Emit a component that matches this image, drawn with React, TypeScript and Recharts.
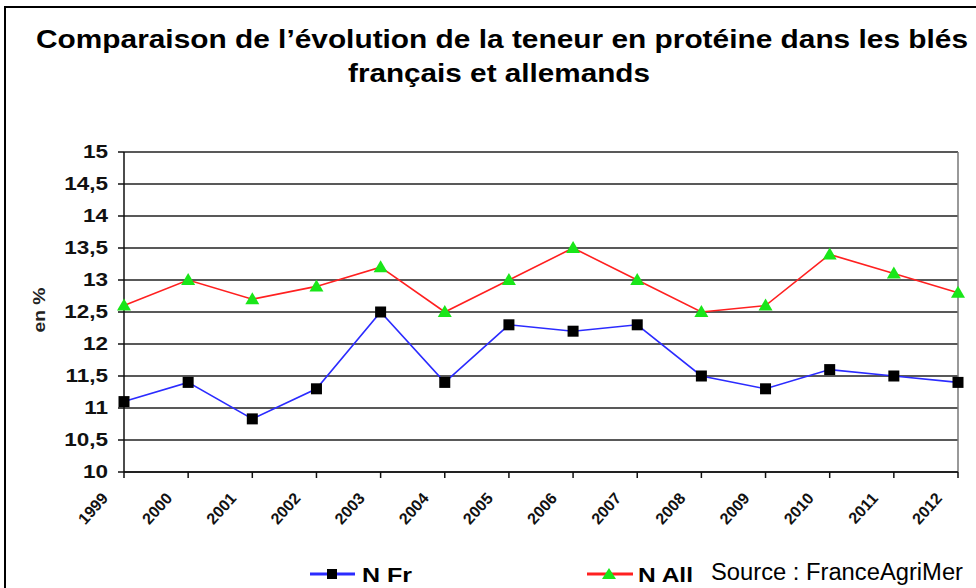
import { CartesianGrid, Line, LineChart, ReferenceLine, XAxis, YAxis } from "recharts";

const years = ["1999", "2000", "2001", "2002", "2003", "2004", "2005", "2006", "2007", "2008", "2009", "2010", "2011", "2012"];
const nFr = [11.1, 11.4, 10.83, 11.3, 12.5, 11.4, 12.3, 12.2, 12.3, 11.5, 11.3, 11.6, 11.5, 11.4];
const nAll = [12.6, 13.0, 12.7, 12.9, 13.2, 12.5, 13.0, 13.5, 13.0, 12.5, 12.6, 13.4, 13.1, 12.8];
const yTicks = [10, 10.5, 11, 11.5, 12, 12.5, 13, 13.5, 14, 14.5, 15];

const data = years.map((year, i) => ({ year, fr: nFr[i], all: nAll[i] }));

const FONT = "'Liberation Sans', Arial, sans-serif";
const BLUE = "#2b2bff";
const RED = "#ff2020";
const GREEN = "#19e619";

const fmt = (v: number) => String(v).replace(".", ",");

function XTick({ x, y, payload }: any) {
  const px = x - 15;
  const py = y + 19;
  return (
    <text transform={`translate(${px} ${py}) rotate(-48)`} textAnchor="end"
      fontFamily={FONT} fontWeight="bold" fontSize={16} fill="#111">
      {payload.value}
    </text>
  );
}

function YTick({ x, y, payload }: any) {
  return (
    <text transform={`translate(${x - 8} ${y}) scale(1.25 1)`} dy="0.36em" textAnchor="end"
      fontFamily={FONT} fontWeight="bold" fontSize={18} fill="#111">
      {fmt(payload.value)}
    </text>
  );
}

function Square({ cx, cy }: any) {
  if (cx == null || cy == null) return null;
  return <rect x={cx - 5.5} y={cy - 5.5} width={11} height={11} fill="#000" />;
}

function Triangle({ cx, cy }: any) {
  if (cx == null || cy == null) return null;
  return <polygon points={`${cx},${cy - 7} ${cx - 7},${cy + 5} ${cx + 7},${cy + 5}`} fill={GREEN} />;
}

export default function App() {
  return (
    <div style={{ position: "absolute", left: 0, top: 0, width: 976, height: 588, background: "#fff", overflow: "hidden" }}>
      <LineChart width={976} height={588} data={data} margin={{ top: 152, right: 18, bottom: 76, left: 54 }}>
        <CartesianGrid vertical={false} stroke="#222" strokeWidth={1.5} />
        <XAxis dataKey="year" height={40} tick={<XTick />} tickSize={6} stroke="#111" strokeWidth={1.5} interval={0} />
        <YAxis width={70} domain={[10, 15]} ticks={yTicks} tick={<YTick />} tickSize={6} stroke="#111" strokeWidth={1.5} />
        <ReferenceLine x="2012" stroke="#777" strokeWidth={1.5} />
        <Line dataKey="fr" stroke={BLUE} strokeWidth={1.6} dot={<Square />} isAnimationActive={false} />
        <Line dataKey="all" stroke={RED} strokeWidth={1.6} dot={<Triangle />} isAnimationActive={false} />
      </LineChart>
      <svg width={976} height={588} style={{ position: "absolute", left: 0, top: 0, pointerEvents: "none" }}>
        <rect x={5} y={7} width={1000} height={620} fill="none" stroke="#000" strokeWidth={2} />
        <text x={36} y={48} textLength={932} lengthAdjust="spacingAndGlyphs" fontFamily={FONT} fontWeight="bold" fontSize={26} fill="#000">
          Comparaison de l’évolution de la teneur en protéine dans les blés
        </text>
        <text x={348} y={82} textLength={302} lengthAdjust="spacingAndGlyphs" fontFamily={FONT} fontWeight="bold" fontSize={26} fill="#000">
          français et allemands
        </text>
        <text x={45} y={310} transform="rotate(-90 45 310)" textAnchor="middle" textLength={45} lengthAdjust="spacingAndGlyphs"
          fontFamily={FONT} fontWeight="bold" fontSize={17} fill="#222">
          en %
        </text>
        <line x1={310} y1={574} x2={355} y2={574} stroke={BLUE} strokeWidth={3} />
        <rect x={327} y={569} width={10} height={10} fill="#000" />
        <text x={362} y={582} textLength={50} lengthAdjust="spacingAndGlyphs" fontFamily={FONT} fontWeight="bold" fontSize={21} fill="#000">N Fr</text>
        <line x1={587} y1={574} x2={633} y2={574} stroke={RED} strokeWidth={3} />
        <polygon points="609,568 602,579 616,579" fill={GREEN} />
        <text x={638} y={582} textLength={55} lengthAdjust="spacingAndGlyphs" fontFamily={FONT} fontWeight="bold" fontSize={21} fill="#000">N All</text>
        <text x={711} y={580} textLength={252} lengthAdjust="spacingAndGlyphs" fontFamily={FONT} fontSize={23} fill="#000">Source : FranceAgriMer</text>
      </svg>
    </div>
  );
}
